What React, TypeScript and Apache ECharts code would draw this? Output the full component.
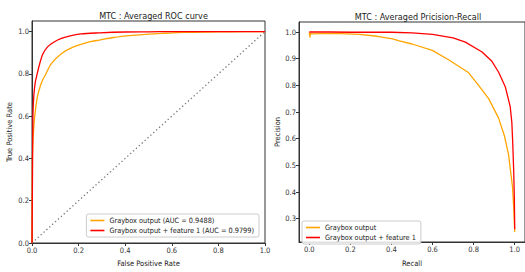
import React, { useEffect, useRef } from "react";
import * as echarts from "echarts";

const rocTitle = "MTC : Averaged ROC curve";
const prTitle = "MTC : Averaged Pricision-Recall";

const rocNames = ["Graybox output (AUC = 0.9488)", "Graybox output + feature 1 (AUC = 0.9799)"];
const prNames = ["Graybox output", "Graybox output + feature 1"];

const rocTicks = [0, 0.2, 0.4, 0.6, 0.8, 1.0];
const prXTicks = [0, 0.2, 0.4, 0.6, 0.8, 1.0];
const prYTicks = [0.3, 0.4, 0.5, 0.6, 0.7, 0.8, 0.9, 1.0];

const rocGraybox: [number, number][] = [
  [0, 0], [0.001, 0.2], [0.002, 0.4], [0.005, 0.5], [0.01, 0.58], [0.015, 0.63],
  [0.023, 0.69], [0.035, 0.74], [0.047, 0.775], [0.055, 0.79], [0.083, 0.848],
  [0.126, 0.895], [0.176, 0.926], [0.25, 0.952], [0.29, 0.96], [0.35, 0.972],
  [0.43, 0.982], [0.5, 0.988], [0.57, 0.992], [0.65, 0.996], [0.75, 0.998],
  [0.85, 0.999], [1, 1],
];
const rocFeature: [number, number][] = [
  [0, 0], [0.002, 0.3], [0.004, 0.6], [0.008, 0.7], [0.014, 0.76], [0.019, 0.785],
  [0.033, 0.848], [0.047, 0.895], [0.065, 0.925], [0.083, 0.942], [0.11, 0.96],
  [0.14, 0.973], [0.21, 0.989], [0.29, 0.994], [0.4, 0.998], [0.5, 0.999],
  [0.6, 1], [1, 1],
];
const rocChance: [number, number][] = [[0, 0], [1, 1]];

const prGraybox: [number, number][] = [
  [0, 0.998], [0.003, 0.98], [0.006, 0.995], [0.01, 0.993], [0.05, 0.994],
  [0.15, 0.994], [0.245, 0.991], [0.33, 0.984], [0.406, 0.974], [0.438, 0.967],
  [0.5, 0.955], [0.599, 0.931], [0.68, 0.895], [0.776, 0.847], [0.825, 0.799],
  [0.873, 0.75], [0.921, 0.678], [0.95, 0.61], [0.97, 0.54], [0.989, 0.42],
  [0.996, 0.33], [1.0, 0.25],
];
const prFeature: [number, number][] = [
  [0, 1.0], [0.1, 1.0], [0.2, 0.999], [0.3, 0.999], [0.4, 0.999], [0.5, 0.997],
  [0.6, 0.991], [0.7, 0.978], [0.76, 0.962], [0.841, 0.925], [0.889, 0.89],
  [0.921, 0.85], [0.954, 0.795], [0.978, 0.72], [0.986, 0.66], [0.99, 0.59],
  [0.995, 0.48], [0.998, 0.38], [1.0, 0.26],
];

const FONT = "'Liberation Sans Narrow', 'DejaVu Sans Condensed', sans-serif";
const ORANGE = "#FFA500";
const RED = "#FF0000";
const fmt = (v: number) => v.toFixed(1);

export default function App() {
  const ref = useRef<HTMLDivElement>(null);
  useEffect(() => {
    if (!ref.current) return;
    const chart = echarts.init(ref.current, undefined, { renderer: "svg" });
    const axisLine = { show: true, onZero: false, lineStyle: { color: "#333", width: 1 } };
    const axisTick = { show: true, inside: false, length: 3, lineStyle: { color: "#333" } };
    const nameTextStyle = { fontFamily: FONT, fontSize: 7.5, color: "#222" };
    const labelCommon = { fontFamily: FONT, fontSize: 7.5, color: "#333", margin: 3 };
    const legendCommon = {
      orient: "vertical" as const,
      icon: "rect",
      itemWidth: 14,
      itemHeight: 1.6,
      itemGap: 3,
      padding: [3, 5, 3, 4],
      backgroundColor: "rgba(255,255,255,0.85)",
      borderColor: "#ccc",
      borderWidth: 1,
      borderRadius: 2,
      textStyle: { fontFamily: FONT, fontSize: 7.3, color: "#222", padding: [0, 0, 0, 0] },
    };
    const titleStyle = { fontFamily: FONT, fontSize: 9, fontWeight: "normal", color: "#222" };
    chart.setOption({
      animation: false,
      backgroundColor: "#fff",
      title: [
        { text: rocTitle, left: 148.5, top: 6, textAlign: "center", textStyle: titleStyle },
        { text: prTitle, left: 413, top: 7, textAlign: "center", textStyle: titleStyle },
      ],
      grid: [
        { left: 32, right: 260, top: 21, bottom: 29, show: true, borderColor: "#333", borderWidth: 1, backgroundColor: "transparent" },
        { left: 299, right: -2, top: 22, bottom: 24, show: true, borderColor: "#333", borderWidth: 1, backgroundColor: "transparent" },
      ],
      xAxis: [
        {
          type: "value", gridIndex: 0, min: 0, max: 1, interval: 0.2,
          name: "False Positive Rate", nameLocation: "middle", nameGap: 16, nameTextStyle,
          axisLine, splitLine: { show: false },
          axisLabel: { ...labelCommon, formatter: fmt, customValues: rocTicks },
          axisTick: { ...axisTick, customValues: rocTicks },
        },
        {
          type: "value", gridIndex: 1, min: -0.05, max: 1.05,
          name: "Recall", nameLocation: "middle", nameGap: 17, nameTextStyle,
          axisLine, splitLine: { show: false },
          axisLabel: { ...labelCommon, formatter: fmt, customValues: prXTicks },
          axisTick: { ...axisTick, customValues: prXTicks },
        },
      ],
      yAxis: [
        {
          type: "value", gridIndex: 0, min: 0, max: 1.05,
          name: "True Positive Rate", nameLocation: "middle", nameGap: 19, nameTextStyle,
          axisLine, splitLine: { show: false },
          axisLabel: { ...labelCommon, formatter: fmt, customValues: rocTicks },
          axisTick: { ...axisTick, customValues: rocTicks },
        },
        {
          type: "value", gridIndex: 1, min: 0.2125, max: 1.0375,
          name: "Precision", nameLocation: "middle", nameGap: 18, nameTextStyle,
          axisLine, splitLine: { show: false },
          axisLabel: { ...labelCommon, formatter: fmt, customValues: prYTicks },
          axisTick: { ...axisTick, customValues: prYTicks },
        },
      ],
      legend: [
        { ...legendCommon, data: rocNames, right: 266, bottom: 35 },
        { ...legendCommon, data: prNames, left: 302, bottom: 28 },
      ],
      series: [
        {
          name: "chance", type: "line", xAxisIndex: 0, yAxisIndex: 0, data: rocChance,
          showSymbol: false, silent: true,
          lineStyle: { color: "#777", width: 1.3, type: [1.3, 2.6] },
        },
        {
          name: rocNames[0], type: "line", xAxisIndex: 0, yAxisIndex: 0, data: rocGraybox,
          showSymbol: false, smooth: 0.3, color: ORANGE, lineStyle: { color: ORANGE, width: 1.3 },
        },
        {
          name: rocNames[1], type: "line", xAxisIndex: 0, yAxisIndex: 0, data: rocFeature,
          showSymbol: false, smooth: 0.3, color: RED, lineStyle: { color: RED, width: 1.3 },
        },
        {
          name: prNames[0], type: "line", xAxisIndex: 1, yAxisIndex: 1, data: prGraybox,
          showSymbol: false, color: ORANGE, lineStyle: { color: ORANGE, width: 1.3 },
        },
        {
          name: prNames[1], type: "line", xAxisIndex: 1, yAxisIndex: 1, data: prFeature,
          showSymbol: false, color: RED, lineStyle: { color: RED, width: 1.3 },
        },
      ],
    });
    return () => chart.dispose();
  }, []);
  return (
    <div
      ref={ref}
      style={{ position: "fixed", left: 0, top: 0, width: 525, height: 272, background: "#fff" }}
    />
  );
}
